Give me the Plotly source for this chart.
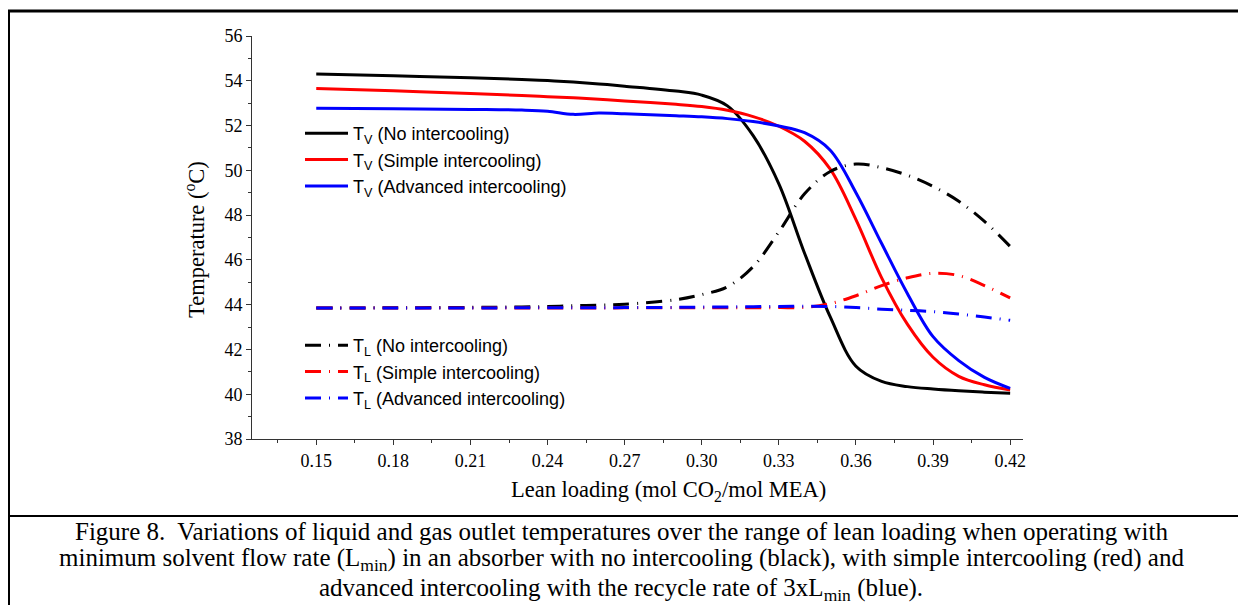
import plotly.graph_objects as go

# Lean loading (mol CO2/mol MEA)
lean_loading = [0.15, 0.18, 0.21, 0.23, 0.24, 0.25, 0.26, 0.27, 0.29, 0.30, 0.31, 0.32,
                0.33, 0.34, 0.35, 0.36, 0.37, 0.38, 0.39, 0.40, 0.41, 0.42]

# Gas (vapour) outlet temperature, degC
tv_none = [54.30, 54.22, 54.13, 54.06, 54.01, 53.94, 53.86, 53.76, 53.54, 53.36, 52.88, 51.55,
           49.40, 46.30, 43.45, 41.25, 40.57, 40.34, 40.23, 40.15, 40.09, 40.04]
tv_simple = [53.66, 53.55, 53.43, 53.34, 53.29, 53.24, 53.17, 53.10, 52.95, 52.85, 52.68, 52.40,
             51.97, 51.30, 50.05, 47.80, 45.20, 43.13, 41.65, 40.80, 40.42, 40.19]
tv_advanced = [52.77, 52.75, 52.72, 52.69, 52.64, 52.50, 52.56, 52.53, 52.44, 52.39, 52.31, 52.18,
               51.98, 51.68, 50.90, 49.00, 46.73, 44.50, 42.57, 41.50, 40.75, 40.26]

# Liquid outlet temperature, degC
tl_none = [43.85, 43.86, 43.88, 43.90, 43.92, 43.95, 43.98, 44.02, 44.22, 44.45, 44.80, 45.70,
           47.25, 48.95, 49.95, 50.28, 50.12, 49.78, 49.28, 48.62, 47.72, 46.60]
tl_simple = [43.85, 43.85, 43.85, 43.85, 43.85, 43.85, 43.85, 43.86, 43.86, 43.86, 43.86, 43.86,
             43.87, 43.88, 44.05, 44.40, 44.85, 45.20, 45.40, 45.30, 44.85, 44.30]
tl_advanced = [43.85, 43.85, 43.85, 43.86, 43.86, 43.86, 43.86, 43.87, 43.88, 43.89, 43.90, 43.91,
               43.92, 43.93, 43.92, 43.87, 43.80, 43.75, 43.69, 43.58, 43.45, 43.30]

x_ticks = [0.15, 0.18, 0.21, 0.24, 0.27, 0.30, 0.33, 0.36, 0.39, 0.42]
x_tick_labels = ["0.15", "0.18", "0.21", "0.24", "0.27", "0.30", "0.33", "0.36", "0.39", "0.42"]

names = ["(No intercooling)", "(Simple intercooling)", "(Advanced intercooling)"]
colors = ["#000000", "#ff0000", "#0000ff"]

fig = go.Figure()

for y, name, c in zip([tv_none, tv_simple, tv_advanced], names, colors):
    fig.add_trace(go.Scatter(
        x=lean_loading, y=y, mode="lines", name="T<sub>V</sub> " + name,
        line=dict(color=c, width=3, shape="spline", smoothing=1.0),
        legend="legend",
    ))

for y, name, c in zip([tl_none, tl_simple, tl_advanced], names, colors):
    fig.add_trace(go.Scatter(
        x=lean_loading, y=y, mode="lines", name="T<sub>L</sub> " + name,
        line=dict(color=c, width=3, shape="spline", smoothing=1.0,
                  dash="16px,8px,1px,8px"),
        legend="legend2",
    ))

W, H = 1238, 605
L, R, T, B = 252, 215, 36, 166
pw, ph = W - L - R, H - T - B


def px(xp):
    return (xp - L) / pw


def py(yp):
    return (H - B - yp) / ph


serif = "Liberation Serif, Times New Roman, serif"
sans = "Liberation Sans, Arial, sans-serif"
axis_grey = "#333333"

axis_common = dict(
    showline=True, linecolor=axis_grey, linewidth=1, mirror=False,
    ticks="outside", ticklen=5, tickwidth=1, tickcolor=axis_grey,
    showgrid=False, zeroline=False,
    tickfont=dict(family=serif, size=18, color="#000000"),
)

fig.update_xaxes(
    range=[0.125, 0.425], tickmode="array", tickvals=x_ticks, ticktext=x_tick_labels,
    minor=dict(tickmode="array",
               tickvals=[0.135, 0.165, 0.195, 0.225, 0.255, 0.285, 0.315, 0.345, 0.375, 0.405],
               ticks="outside", ticklen=3, tickcolor=axis_grey),
    **axis_common,
)
fig.update_yaxes(
    range=[38, 56], tickmode="linear", tick0=38, dtick=2,
    minor=dict(dtick=1, ticks="outside", ticklen=3, tickcolor=axis_grey),
    **axis_common,
)

legend_style = dict(
    font=dict(family=sans, size=18, color="#000000"),
    bgcolor="rgba(0,0,0,0)", borderwidth=0,
    xanchor="left", yanchor="top", tracegroupgap=0, itemwidth=43,
)

fig.update_layout(
    width=W, height=H,
    margin=dict(l=L, r=R, t=T, b=B, pad=0),
    paper_bgcolor="#ffffff", plot_bgcolor="#ffffff",
    showlegend=True,
    legend=dict(x=px(300), y=py(115), **legend_style),
    legend2=dict(x=px(300), y=py(327), **legend_style),
)

# Axis titles
fig.add_annotation(
    text="Lean loading (mol CO<sub>2</sub>/mol MEA)", xref="paper", yref="paper",
    x=px(668), y=py(491), xanchor="center", yanchor="middle", showarrow=False,
    font=dict(family=serif, size=22.5, color="#000000"),
)
fig.add_annotation(
    text="Temperature (<sup>o</sup>C)", xref="paper", yref="paper",
    x=px(195), y=py(240), xanchor="center", yanchor="middle", showarrow=False,
    textangle=-90, font=dict(family=serif, size=22.5, color="#000000"),
)

# Frame around the figure and the caption panel
fig.add_shape(type="line", xref="paper", yref="paper", x0=px(8), x1=px(1245),
              y0=py(11), y1=py(11), line=dict(color="#000000", width=3))
fig.add_shape(type="line", xref="paper", yref="paper", x0=px(9), x1=px(9),
              y0=py(10), y1=py(610), line=dict(color="#000000", width=2))
fig.add_shape(type="line", xref="paper", yref="paper", x0=px(9), x1=px(1245),
              y0=py(516), y1=py(516), line=dict(color="#000000", width=2))

caption = [
    "Figure 8.  Variations of liquid and gas outlet temperatures over the range of lean loading when operating with",
    "minimum solvent flow rate (L<sub>min</sub>) in an absorber with no intercooling (black), with simple intercooling (red) and",
    "advanced intercooling with the recycle rate of 3xL<sub>min</sub> (blue).",
]
for line, yc in zip(caption, [531, 559, 589]):
    fig.add_annotation(
        text=line, xref="paper", yref="paper", x=px(621), y=py(yc),
        xanchor="center", yanchor="middle", showarrow=False,
        font=dict(family=serif, size=25, color="#000000"),
    )

fig.write_html("out.html")
